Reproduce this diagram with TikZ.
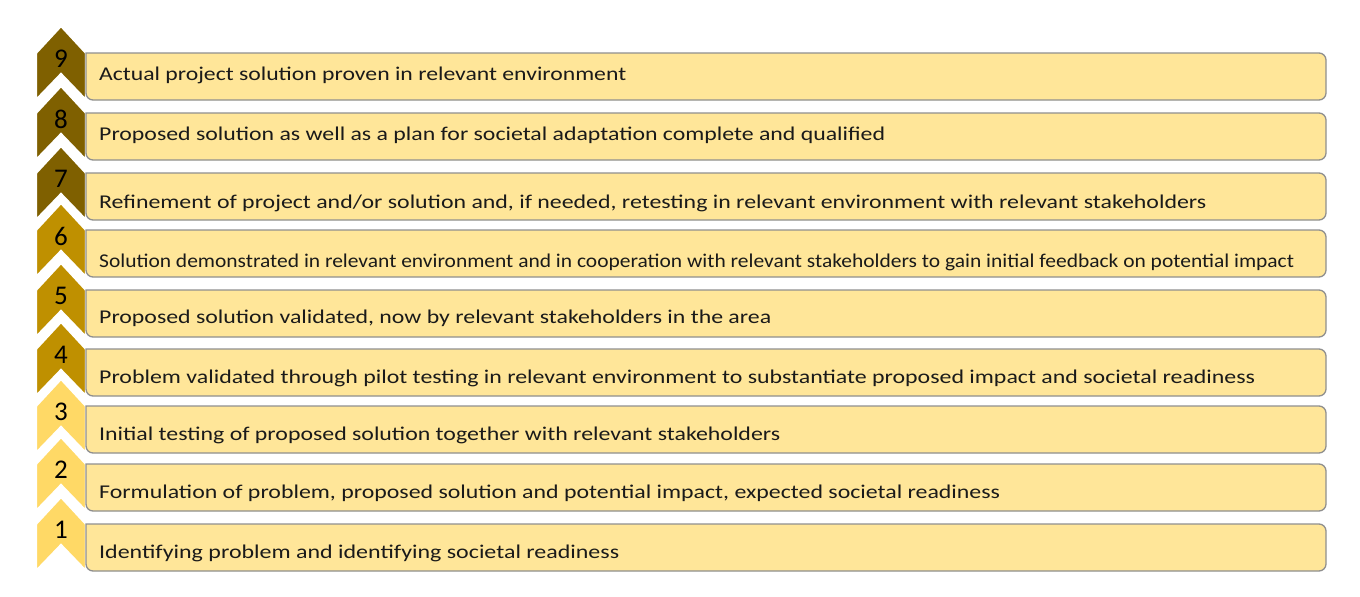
\documentclass[tikz,border=0pt]{standalone}
\usepackage{fontspec}
\setmainfont{Carlito}
\usepackage{graphicx}
\definecolor{barfill}{HTML}{FFE699}
\definecolor{barline}{HTML}{8F8F8F}
\definecolor{dark}{HTML}{7F6000}
\definecolor{mid}{HTML}{BF9000}
\definecolor{light}{HTML}{FFD966}
\definecolor{txt}{HTML}{1A1A1A}
\tikzset{
  chev/.style={draw=white, line width=2.2pt, line join=miter},
  bar/.style={fill=barfill, draw=barline, line width=1.3pt},
  lbl/.style={anchor=west, inner sep=0pt, text=txt, font=\fontsize{19.5}{22}\selectfont},
  num/.style={inner sep=0pt, text=black, font=\fontsize{27}{30}\selectfont}
}
\newcommand{\fitw}[2]{\resizebox{#1pt}{\height}{#2}}
\begin{document}
\begin{tikzpicture}[x=1pt,y=-1pt]
\useasboundingbox (0,0) rectangle (1360,597);
\foreach \T/\c/\n/\ty/\w/\t in {
  53/dark/9/75/527/{Actual project solution proven in relevant environment},
  113/dark/8/135/786/{Proposed solution as well as a plan for societal adaptation complete and qualified},
  173/dark/7/203/1107/{Refinement  of  project and/or solution and, if needed,  retesting  in relevant environment with relevant stakeholders},
  230/mid/6/262/1195/{Solution demonstrated in relevant environment and in cooperation with relevant stakeholders to gain initial feedback on potential impact},
  290/mid/5/318/672/{Proposed solution validated, now by relevant stakeholders in the area},
  349/mid/4/378/1156/{Problem validated through pilot testing in relevant environment to substantiate proposed impact and societal readiness},
  406/light/3/435/681/{Initial testing of proposed solution together with relevant stakeholders},
  464/light/2/493/901/{Formulation of problem, proposed solution and potential impact, expected societal readiness},
  524/light/1/553/520/{Identifying problem and identifying societal readiness}}
{
  \pgfmathsetmacro{\B}{\T+47}
  \pgfmathsetmacro{\A}{\T-27}
  \pgfmathsetmacro{\N}{\B-26}
  \pgfmathsetmacro{\ny}{\T+6}
  \path[chev, fill=\c] (36,\T) -- (61,\A) -- (86,\T) -- (86,\B) -- (61,\N) -- (36,\B) -- cycle;
  \draw[bar] (86,\T) -- (700,\T) [rounded corners=7pt] -- (1326,\T) -- (1326,\B) -- (86,\B) [sharp corners] -- cycle;
  \node[num] (n\n) at (61,\ny) {\n};
  \node[lbl] (t\n) at (99,\ty) {\fitw{\w}{\t}};
}
\end{tikzpicture}
\end{document}
